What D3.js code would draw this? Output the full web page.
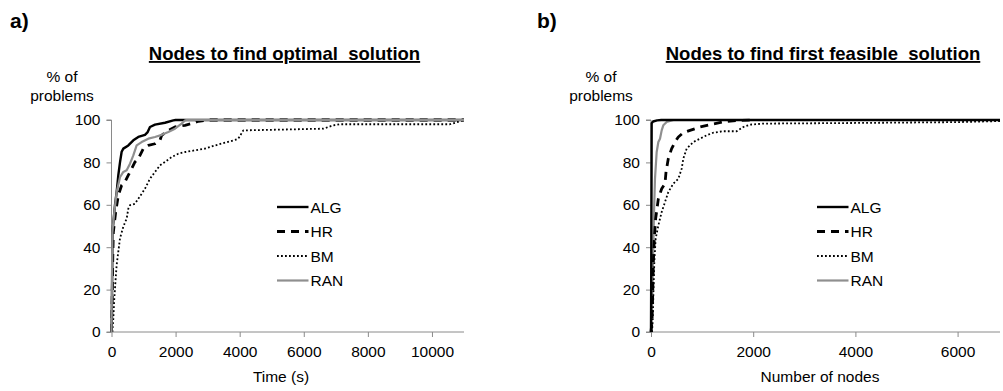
<!DOCTYPE html>
<html><head><meta charset="utf-8">
<script src="https://cdn.jsdelivr.net/npm/d3@7"></script>
<style>body{margin:0;background:#fff}svg{display:block}text{font-family:"Liberation Sans",Arial,sans-serif}</style>
</head><body>
<svg id="c" width="1003" height="391"></svg>
<script>
// ---- data ----
const seriesNames = ["ALG", "HR", "BM", "RAN"];
const yTicks = [0, 20, 40, 60, 80, 100];
const xTicksA = [0, 2000, 4000, 6000, 8000, 10000];
const xTicksB = [0, 2000, 4000, 6000];

// Panel a: time (s) vs % of problems
const algA = [[0,0],[15,15],[25,35],[30,47],[109,60],[161,66],[213,74],[265,80],[317,85],[369,86.5],[525,88],[681,90.4],[837,92],[1045,93],[1129,94.3],[1201,96.7],[1357,97.8],[1669,98.7],[1929,99.8],[2000,100],[11000,100]];
const hrA = [[0,0],[20,15],[40,35],[57,47],[130,56.6],[213,64.5],[317,69.2],[421,70.8],[525,74],[629,77],[733,80.2],[837,81.8],[993,86.5],[1149,88],[1357,88.8],[1513,90.4],[1565,92.8],[1773,95.1],[1981,96.7],[2293,97.5],[2501,98.3],[2709,99.4],[2917,99.8],[3000,100],[11000,100]];
const bmA = [[27,0],[57,6.4],[88,15.9],[130,25.3],[161,31.6],[213,37.9],[265,44.2],[369,49.7],[473,53.5],[525,58.2],[577,59.8],[733,60.5],[837,62.9],[941,65.2],[1045,67.6],[1201,72.3],[1357,75.5],[1513,78.6],[1669,80.2],[1877,82.5],[2085,84.1],[2293,84.9],[2605,85.7],[2917,86.5],[3229,88],[3541,89.3],[3853,90.6],[3957,91.2],[4113,95.1],[6609,95.9],[6921,97.5],[7129,98],[10562,98],[10874,99.4],[11000,100]];
const ranA = [[0,0],[10,15],[20,35],[27,47],[88,56.6],[161,66],[265,73],[369,75.5],[473,76.3],[577,79.4],[681,83.3],[785,88],[941,89.6],[1149,91.2],[1357,92],[1565,93],[1773,94.3],[1981,95.9],[2189,98.3],[2293,99.8],[2350,100],[11000,100]];

// Panel b: number of nodes vs % of problems
const algB = [[0,0],[5,30],[10,70],[13,98.5],[40,99.3],[120,99.8],[200,100],[6830,100]];
const hrB = [[0,0],[20,5],[33,17.3],[46,33],[65,44],[91,53.5],[144,62.9],[209,67.6],[274,70],[294,75.5],[339,81.8],[404,86.5],[470,89.6],[535,92],[633,94],[763,95.1],[959,96.7],[1155,97.8],[1415,99.1],[1677,99.8],[2002,100]];
const bmB = [[20,0],[33,5],[46,17.3],[65,33],[91,44],[144,50.3],[209,56.6],[274,61.3],[339,66],[437,70],[535,72.3],[600,77],[633,81.8],[698,86.5],[828,89.6],[959,91.2],[1090,92.8],[1220,94],[1415,94.7],[1677,94.7],[1807,96.7],[1937,97.8],[2198,98.3],[4000,98.6],[6000,99],[6830,99.5]];
const ranB = [[0,0],[20,10],[33,25.1],[46,40.9],[59,56.6],[78,72.3],[111,84.9],[144,89.6],[176,91.2],[209,95.1],[241,97.5],[307,99.1],[437,100]];

// ---- styles ----
const styles = {
  ALG: {stroke:"#000", width:2.4, dash:null},
  HR:  {stroke:"#000", width:2.8, dash:"8,6"},
  BM:  {stroke:"#000", width:1.8, dash:"1.8,2.2"},
  RAN: {stroke:"#8f8f8f", width:2.2, dash:null}
};
const axisColor = "#8a8a8a";
const svg = d3.select("#c");

function panel(p) {
  const x = d3.scaleLinear().domain(p.xDomain).range(p.xRange);
  const y = d3.scaleLinear().domain([0, 100]).range([332, 120]);
  const g = svg.append("g");

  // panel letter
  g.append("text").attr("x", p.letterX).attr("y", 28).attr("font-size", 21).attr("font-weight", "bold").text(p.letter);
  // title
  g.append("text").attr("x", p.titleX).attr("y", 60).attr("text-anchor", "middle")
    .attr("font-size", 18.5).attr("font-weight", "bold").attr("text-decoration", "underline")
    .style("white-space", "pre").text(p.title);
  // y label
  g.append("text").attr("x", p.yLabX).attr("y", 82).attr("text-anchor", "middle").attr("font-size", 15.5).text("% of");
  g.append("text").attr("x", p.yLabX).attr("y", 101).attr("text-anchor", "middle").attr("font-size", 15.5).text("problems");

  // axes
  const yAxis = g.append("g").attr("transform", `translate(${p.xRange[0]},0)`)
    .call(d3.axisLeft(y).tickValues(yTicks).tickSize(5).tickPadding(6).tickFormat(d3.format("d")));
  const xAxis = g.append("g").attr("transform", `translate(0,332)`)
    .call(d3.axisBottom(x).tickValues(p.xTicks).tickSize(5).tickPadding(9).tickFormat(d3.format("d")));
  [yAxis, xAxis].forEach(a => {
    a.select(".domain").attr("stroke", axisColor).attr("stroke-width", 1);
    a.selectAll(".tick line").attr("stroke", axisColor);
    a.selectAll(".tick text").attr("fill", "#000").attr("font-size", 15.5).attr("font-family", '"Liberation Sans",Arial,sans-serif');
  });
  yAxis.select(".domain").attr("d", `M-5,${y(100)}H0V${y(0)}H-5`);
  xAxis.select(".domain").attr("d", `M${p.xRange[0]},0H${p.xRange[1]}`);

  // x label
  g.append("text").attr("x", p.xLabX).attr("y", 381.5).attr("text-anchor", "middle").attr("font-size", 15.5).text(p.xLabel);

  // lines
  const line = d3.line().x(d => x(d[0])).y(d => y(d[1]));
  p.order.forEach(name => {
    const s = styles[name];
    g.append("path").datum(p.data[name]).attr("fill", "none")
      .attr("stroke", s.stroke).attr("stroke-width", s.width)
      .attr("stroke-dasharray", s.dash).attr("stroke-linejoin", "round").attr("d", line);
  });

  // legend
  const legYs = [207, 231.5, 256, 280.5];
  seriesNames.forEach((name, i) => {
    const s = styles[name];
    const yy = legYs[i];
    g.append("line").attr("x1", p.legX).attr("x2", p.legX + 31.5).attr("y1", yy).attr("y2", yy)
      .attr("stroke", s.stroke).attr("stroke-width", s.width).attr("stroke-dasharray", s.dash);
    g.append("text").attr("x", p.legX + 33.5).attr("y", yy).attr("dy", "0.36em").attr("font-size", 15.5).text(name);
  });
}

panel({
  letter: "a)", letterX: 10, title: "Nodes to find optimal  solution", titleX: 284.5, yLabX: 62,
  xDomain: [0, 11000], xRange: [111.5, 464], xTicks: xTicksA, xLabel: "Time (s)", xLabX: 281,
  data: {ALG: algA, HR: hrA, BM: bmA, RAN: ranA}, order: ["BM", "HR", "ALG", "RAN"], legX: 277
});
panel({
  letter: "b)", letterX: 537, title: "Nodes to find first feasible  solution", titleX: 823, yLabX: 601,
  xDomain: [0, 6830], xRange: [651, 1000], xTicks: xTicksB, xLabel: "Number of nodes", xLabX: 820,
  data: {ALG: algB, HR: hrB, BM: bmB, RAN: ranB}, order: ["RAN", "BM", "HR", "ALG"], legX: 817
});
</script>
</body></html>
